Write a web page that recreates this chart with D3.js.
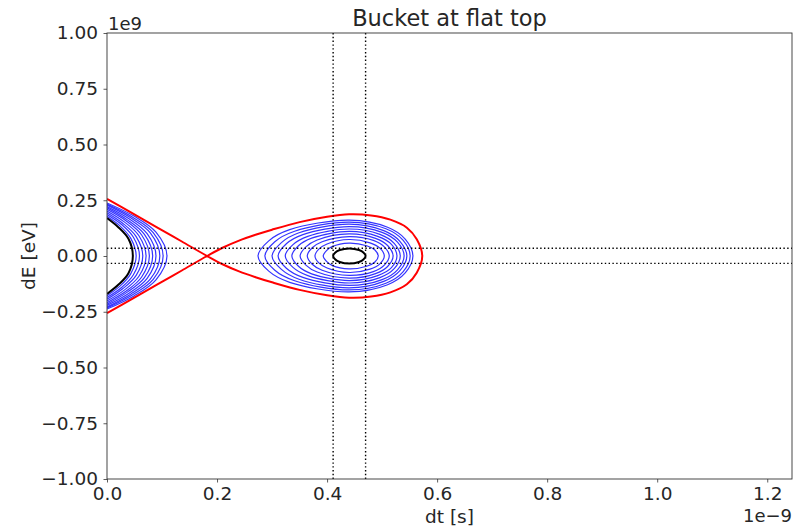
<!DOCTYPE html>
<html>
<head>
<meta charset="utf-8">
<script src="https://cdn.jsdelivr.net/npm/d3@7"></script>
<style>
  body { margin: 0; background: #fff; }
  text { font-family: "DejaVu Sans", sans-serif; fill: #262626; }
</style>
</head>
<body>
<div id="chart"></div>
<script>
// units: dt in 1e-9 s, dE in 1e9 eV (matching the axis offset texts)
const xTicks = [0, 0.2, 0.4, 0.6, 0.8, 1.0, 1.2];
const yTicks = [-1, -0.75, -0.5, -0.25, 0, 0.25, 0.5, 0.75, 1];
const xDomain = [0, 1.245];
const yDomain = [-1, 1];

// separatrix: tail branch (x=0 -> unstable point) and upper half of bucket (unstable point -> right tip)
const sepTail = [[0, 0.256], [0.045, 0.193], [0.09, 0.13], [0.136, 0.065], [0.182, 0]];
const sepBucket = [[0.182, 0], [0.21, 0.037], [0.24, 0.069], [0.27, 0.095], [0.30, 0.118], [0.35, 0.152], [0.40, 0.176],
                   [0.44, 0.187], [0.48, 0.182], [0.515, 0.163], [0.545, 0.127], [0.563, 0.075], [0.573, 0]];

// closed trajectories inside the bucket, upper halves (mirrored in dE)
const bucketContours = [
  [[0.2745, 0], [0.294, 0.068], [0.332, 0.118], [0.44, 0.161], [0.510, 0.129], [0.542, 0.076], [0.556, 0]],
  [[0.287, 0], [0.305, 0.064], [0.341, 0.111], [0.44, 0.152], [0.507, 0.122], [0.538, 0.071], [0.551, 0]],
  [[0.300, 0], [0.317, 0.060], [0.349, 0.104], [0.44, 0.143], [0.503, 0.114], [0.532, 0.067], [0.545, 0]],
  [[0.311, 0], [0.326, 0.055], [0.356, 0.096], [0.44, 0.132], [0.500, 0.106], [0.528, 0.062], [0.540, 0]],
  [[0.324, 0], [0.338, 0.051], [0.365, 0.088], [0.44, 0.121], [0.496, 0.097], [0.522, 0.057], [0.533, 0]],
  [[0.336, 0], [0.348, 0.046], [0.372, 0.080], [0.44, 0.110], [0.492, 0.088], [0.517, 0.052], [0.527, 0]],
  [[0.351, 0], [0.362, 0.042], [0.382, 0.072], [0.44, 0.099], [0.488, 0.079], [0.510, 0.047], [0.520, 0]],
  [[0.364, 0], [0.373, 0.037], [0.391, 0.064], [0.44, 0.087], [0.484, 0.070], [0.504, 0.041], [0.513, 0]],
  [[0.378, 0], [0.385, 0.031], [0.400, 0.054], [0.44, 0.074], [0.478, 0.059], [0.496, 0.035], [0.504, 0]],
  [[0.393, 0], [0.399, 0.024], [0.409, 0.042], [0.44, 0.058], [0.472, 0.046], [0.487, 0.027], [0.493, 0]]
];
const bucketCore = [[0.411, 0], [0.415, 0.016], [0.423, 0.027], [0.4405, 0.034], [0.458, 0.027], [0.466, 0.016], [0.470, 0]];

// open trajectories left of the unstable point, upper halves (x=0 edge -> tip at dE=0)
const leftContours = [
  [[0, 0.178], [0.024, 0.134], [0.043, 0.080], [0.053, 0]],
  [[0, 0.186], [0.027, 0.140], [0.048, 0.084], [0.059, 0]],
  [[0, 0.194], [0.029, 0.146], [0.053, 0.087], [0.065, 0]],
  [[0, 0.202], [0.032, 0.152], [0.058, 0.091], [0.071, 0]],
  [[0, 0.209], [0.035, 0.157], [0.063, 0.094], [0.077, 0]],
  [[0, 0.216], [0.037, 0.162], [0.068, 0.097], [0.083, 0]],
  [[0, 0.222], [0.040, 0.167], [0.073, 0.100], [0.089, 0]],
  [[0, 0.228], [0.043, 0.171], [0.079, 0.103], [0.096, 0]],
  [[0, 0.233], [0.046, 0.175], [0.084, 0.105], [0.102, 0]],
  [[0, 0.238], [0.049, 0.179], [0.089, 0.107], [0.109, 0]]
];
const leftCore = [[0, 0.170], [0.021, 0.128], [0.039, 0.077], [0.047, 0]];

// bounding lines of the core trajectory
const vLines = [0.411, 0.470];
const hLines = [0.035, -0.033];

const width = 794, height = 528;
const margin = { top: 33, right: 2, bottom: 49, left: 107 };
const innerW = width - margin.left - margin.right;
const innerH = height - margin.top - margin.bottom;

const svg = d3.select("#chart").append("svg")
    .attr("width", width).attr("height", height);
const g = svg.append("g").attr("transform", `translate(${margin.left},${margin.top})`);

const x = d3.scaleLinear().domain(xDomain).range([0, innerW]);
const y = d3.scaleLinear().domain(yDomain).range([innerH, 0]);

svg.append("defs").append("clipPath").attr("id", "clip")
  .append("rect").attr("width", innerW).attr("height", innerH);

const plot = g.append("g").attr("clip-path", "url(#clip)");

// mirror an upper half into a closed loop / a symmetric open arc
const closedLoop = half => half.concat(half.slice(1, -1).reverse().map(p => [p[0], -p[1]]));
const openArc = half => half.concat(half.slice(0, -1).reverse().map(p => [p[0], -p[1]]));

const lineClosed = d3.line().x(d => x(d[0])).y(d => y(d[1])).curve(d3.curveCatmullRomClosed.alpha(0.5));
const lineOpen = d3.line().x(d => x(d[0])).y(d => y(d[1])).curve(d3.curveCatmullRom.alpha(0.5));

// left open trajectories
plot.selectAll("path.left").data(leftContours).join("path").attr("class", "left")
  .attr("d", d => lineOpen(openArc(d)))
  .attr("fill", "none").attr("stroke", "#0000ff").attr("stroke-width", 1.2).attr("stroke-opacity", 0.8);
plot.append("path").attr("d", lineOpen(openArc(leftCore)))
  .attr("fill", "none").attr("stroke", "#000").attr("stroke-width", 2);

// bucket trajectories
plot.selectAll("path.bucket").data(bucketContours).join("path").attr("class", "bucket")
  .attr("d", d => lineClosed(closedLoop(d)))
  .attr("fill", "none").attr("stroke", "#0000ff").attr("stroke-width", 1.2).attr("stroke-opacity", 0.8);
plot.append("path").attr("d", lineClosed(closedLoop(bucketCore)))
  .attr("fill", "none").attr("stroke", "#000").attr("stroke-width", 2);

// separatrix: tail down through unstable point, around bucket, out the other tail
const tailLower = sepTail.slice().reverse().map(p => [p[0], -p[1]]);
const bucketLower = sepBucket.map(p => [p[0], -p[1]]);
const bucketUpperBack = sepBucket.slice().reverse();
const sepPath = sepTail.slice(0, -1)
  .concat(bucketLower)
  .concat(bucketUpperBack.slice(1))
  .concat(tailLower.slice(1));
plot.append("path").attr("d", lineOpen(sepPath))
  .attr("fill", "none").attr("stroke", "#ff0000").attr("stroke-width", 2);

// dotted lines
plot.selectAll("line.v").data(vLines).join("line").attr("class", "v")
  .attr("x1", d => x(d)).attr("x2", d => x(d)).attr("y1", 0).attr("y2", innerH)
  .attr("stroke", "#000").attr("stroke-width", 1.4).attr("stroke-dasharray", "1.4,2.4");
plot.selectAll("line.h").data(hLines).join("line").attr("class", "h")
  .attr("y1", d => y(d)).attr("y2", d => y(d)).attr("x1", 0).attr("x2", innerW)
  .attr("stroke", "#000").attr("stroke-width", 1.4).attr("stroke-dasharray", "1.4,2.4");

// axes
const fmtY = d => d3.format(".2f")(d).replace("-", "\u2212");
const xAxis = g.append("g").attr("transform", `translate(0,${innerH})`)
  .call(d3.axisBottom(x).tickValues(xTicks).tickFormat(d3.format(".1f")).tickSize(3.5).tickPadding(4));
const yAxis = g.append("g")
  .call(d3.axisLeft(y).tickValues(yTicks).tickFormat(fmtY).tickSize(3.5).tickPadding(5.5));
[xAxis, yAxis].forEach(a => {
  a.select(".domain").remove();
  a.selectAll("line").attr("stroke", "#333").attr("stroke-width", 0.8);
  a.selectAll("text").style("font-size", "18.5px").attr("fill", "#262626");
});

// frame
g.append("rect").attr("width", innerW).attr("height", innerH)
  .attr("fill", "none").attr("stroke", "#333").attr("stroke-width", 0.9);

// labels
svg.append("text").attr("x", margin.left + innerW / 2).attr("y", 26)
  .attr("text-anchor", "middle").style("font-size", "22.5px").text("Bucket at flat top");
svg.append("text").attr("x", margin.left + innerW / 2).attr("y", 523)
  .attr("text-anchor", "middle").style("font-size", "18.5px").text("dt [s]");
svg.append("text").attr("transform", `translate(35,${margin.top + innerH / 2}) rotate(-90)`)
  .attr("text-anchor", "middle").style("font-size", "18.5px").text("dE [eV]");
svg.append("text").attr("x", margin.left + 1).attr("y", 30)
  .style("font-size", "18px").text("1e9");
svg.append("text").attr("x", width - 2).attr("y", 522)
  .attr("text-anchor", "end").style("font-size", "18px").text("1e\u22129");
</script>
</body>
</html>
